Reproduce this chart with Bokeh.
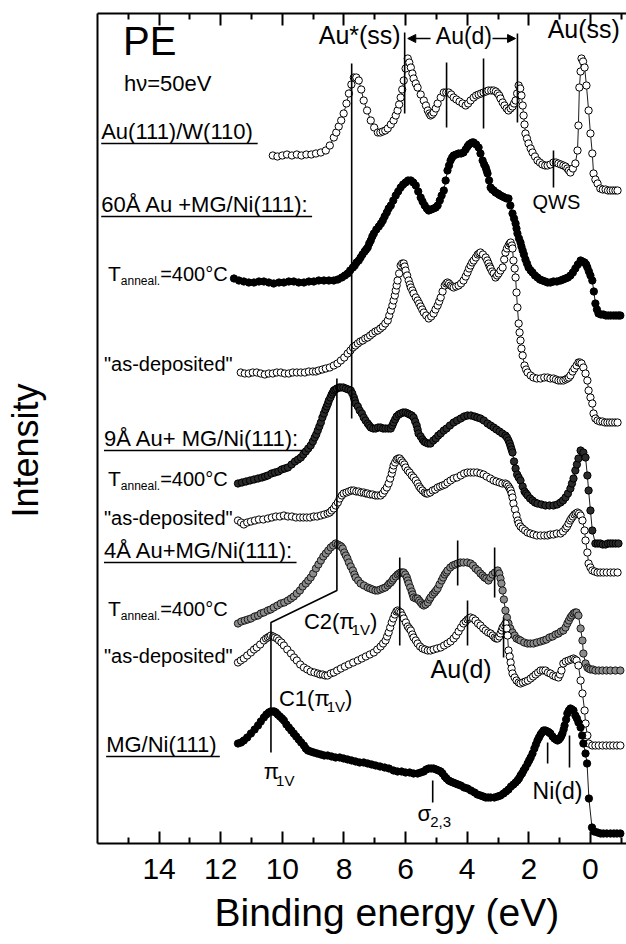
import math
from bokeh.plotting import figure
from bokeh.models import (Range1d, LinearAxis, FixedTicker, ColumnDataSource,
                          Title, Arrow, NormalHead)
from bokeh.core.properties import value
from bokeh.embed import file_html
from bokeh.resources import INLINE

FONT = "Liberation Sans"

# ---------------------------------------------------------------------------
# Photoemission spectra, h nu = 50 eV: (binding energy [eV], intensity [arb. u.])
# Each spectrum carries its own vertical offset in the stack.
# ---------------------------------------------------------------------------
au_w110 = [
    (10.31, 688), (10.16, 687), (10.00, 688), (9.85, 689), (9.69, 688), (9.53, 689),
    (9.38, 688), (9.22, 689), (9.06, 689), (8.91, 690), (8.75, 691), (8.59, 693),
    (8.46, 698), (8.33, 706), (8.25, 711), (8.17, 717), (8.09, 723), (8.01, 730),
    (7.92, 740), (7.84, 750), (7.76, 759), (7.68, 766), (7.60, 766), (7.52, 763),
    (7.44, 754), (7.36, 743), (7.25, 733), (7.13, 723), (7.02, 716), (6.90, 711),
    (6.82, 711), (6.74, 712), (6.66, 713), (6.58, 715), (6.48, 719), (6.39, 723),
    (6.32, 728), (6.26, 733), (6.21, 739), (6.16, 746), (6.11, 754), (6.06, 763),
    (6.00, 775), (5.93, 785), (5.88, 781), (5.83, 776), (5.78, 770), (5.74, 765),
    (5.67, 760), (5.61, 756), (5.51, 749), (5.41, 743), (5.34, 738), (5.28, 733),
    (5.23, 730), (5.19, 728), (5.14, 729), (5.09, 731), (5.02, 735), (4.96, 740),
    (4.86, 746), (4.76, 751), (4.68, 751), (4.60, 751), (4.52, 749), (4.44, 746),
    (4.35, 744), (4.25, 742), (4.15, 740), (4.05, 738), (3.97, 740), (3.89, 743),
    (3.79, 746), (3.71, 748), (3.63, 749), (3.55, 750), (3.47, 751), (3.39, 752),
    (3.31, 753), (3.22, 753), (3.14, 753), (3.07, 752), (3.01, 750), (2.96, 748),
    (2.92, 745), (2.85, 741), (2.79, 738), (2.72, 735), (2.66, 733), (2.59, 735),
    (2.53, 737), (2.48, 740), (2.43, 743), (2.38, 750), (2.33, 758), (2.28, 755),
    (2.24, 748), (2.20, 738), (2.17, 728), (2.14, 719), (2.11, 710), (2.06, 705),
    (2.01, 700), (1.94, 695), (1.88, 691), (1.80, 687), (1.72, 683), (1.64, 681),
    (1.56, 679), (1.47, 678), (1.39, 678), (1.30, 679), (1.20, 681), (1.12, 681),
    (1.04, 680), (0.96, 679), (0.88, 678), (0.81, 677), (0.75, 675), (0.70, 673),
    (0.65, 671), (0.57, 675), (0.49, 680), (0.42, 693), (0.39, 718), (0.36, 756),
    (0.32, 772), (0.29, 785), (0.24, 782), (0.19, 776), (0.13, 758), (0.06, 733),
    (0.00, 710), (-0.06, 690), (-0.10, 670), (-0.16, 664), (-0.23, 660), (-0.32, 655),
    (-0.40, 654), (-0.49, 654), (-0.57, 653), (-0.65, 653), (-0.73, 653), (-0.81, 653),
    (-0.88, 653),
]

au60_annealed = [
    (11.57, 565), (11.41, 563), (11.25, 562), (11.09, 561), (10.92, 561), (10.76, 562),
    (10.60, 562), (10.44, 561), (10.28, 560), (10.11, 561), (9.95, 561), (9.79, 562),
    (9.63, 562), (9.47, 561), (9.30, 561), (9.14, 562), (8.98, 562), (8.82, 563),
    (8.65, 563), (8.49, 563), (8.33, 563), (8.20, 564), (8.07, 566), (7.97, 568),
    (7.88, 570), (7.80, 573), (7.71, 576), (7.65, 578), (7.59, 581), (7.52, 583),
    (7.46, 586), (7.40, 589), (7.33, 592), (7.28, 594), (7.23, 596), (7.18, 600),
    (7.13, 603), (7.08, 607), (7.03, 610), (6.95, 614), (6.87, 617), (6.80, 620),
    (6.74, 623), (6.68, 627), (6.61, 631), (6.55, 635), (6.48, 638), (6.40, 643),
    (6.32, 648), (6.24, 652), (6.16, 656), (6.08, 659), (6.00, 661), (5.92, 663),
    (5.83, 663), (5.75, 661), (5.67, 658), (5.59, 652), (5.51, 646), (5.45, 642),
    (5.38, 638), (5.31, 635), (5.25, 633), (5.17, 634), (5.09, 635), (5.02, 636),
    (4.96, 638), (4.89, 643), (4.83, 648), (4.76, 653), (4.70, 663), (4.64, 673),
    (4.59, 678), (4.54, 683), (4.49, 686), (4.44, 688), (4.36, 689), (4.28, 690),
    (4.20, 690), (4.12, 691), (4.05, 694), (3.99, 697), (3.94, 699), (3.89, 700),
    (3.84, 701), (3.79, 701), (3.71, 699), (3.63, 696), (3.57, 690), (3.50, 683),
    (3.45, 679), (3.40, 676), (3.37, 673), (3.34, 670), (3.29, 663), (3.24, 656),
    (3.19, 654), (3.14, 653), (3.08, 651), (3.01, 650), (2.97, 649), (2.92, 648),
    (2.85, 647), (2.79, 646), (2.72, 645), (2.66, 645), (2.60, 638), (2.53, 630),
    (2.48, 625), (2.43, 620), (2.40, 615), (2.37, 610), (2.32, 605), (2.27, 601),
    (2.24, 597), (2.20, 593), (2.16, 589), (2.11, 584), (2.06, 580), (2.01, 576),
    (1.94, 573), (1.88, 571), (1.80, 568), (1.72, 566), (1.64, 564), (1.56, 563),
    (1.47, 562), (1.39, 561), (1.30, 561), (1.20, 562), (1.09, 562), (0.97, 563),
    (0.89, 564), (0.81, 565), (0.73, 566), (0.65, 568), (0.57, 571), (0.49, 575),
    (0.41, 579), (0.32, 583), (0.26, 582), (0.19, 581), (0.14, 579), (0.10, 576),
    (0.05, 572), (0.00, 568), (-0.06, 563), (-0.11, 552), (-0.16, 540), (-0.21, 534),
    (-0.26, 530), (-0.34, 529), (-0.42, 529), (-0.50, 528), (-0.58, 528), (-0.66, 528),
    (-0.75, 528), (-0.83, 528), (-0.91, 528), (-0.97, 528),
]

au60_deposited = [
    (11.35, 471), (11.22, 470), (11.09, 470), (10.96, 471), (10.83, 471), (10.70, 470),
    (10.57, 469), (10.44, 470), (10.31, 470), (10.18, 471), (10.05, 471), (9.92, 470),
    (9.79, 470), (9.66, 471), (9.53, 471), (9.40, 471), (9.27, 471), (9.14, 472),
    (9.01, 472), (8.91, 472), (8.82, 473), (8.70, 474), (8.59, 475), (8.46, 476),
    (8.33, 478), (8.21, 480), (8.10, 483), (7.99, 486), (7.88, 490), (7.79, 493),
    (7.71, 496), (7.63, 498), (7.55, 500), (7.47, 502), (7.39, 503), (7.31, 505),
    (7.23, 506), (7.15, 508), (7.07, 510), (6.98, 512), (6.90, 513), (6.82, 515),
    (6.74, 517), (6.66, 520), (6.58, 523), (6.53, 528), (6.48, 533), (6.43, 538),
    (6.39, 543), (6.35, 548), (6.32, 553), (6.29, 558), (6.26, 563), (6.21, 570),
    (6.16, 578), (6.11, 580), (6.06, 580), (6.03, 577), (6.00, 573), (5.95, 568),
    (5.90, 563), (5.86, 559), (5.83, 556), (5.78, 553), (5.74, 550), (5.67, 546),
    (5.61, 543), (5.56, 540), (5.51, 537), (5.46, 534), (5.41, 531), (5.33, 528),
    (5.25, 525), (5.17, 527), (5.09, 530), (5.03, 534), (4.96, 538), (4.91, 542),
    (4.86, 546), (4.80, 552), (4.73, 558), (4.68, 560), (4.64, 561), (4.59, 560),
    (4.54, 558), (4.49, 557), (4.44, 556), (4.36, 557), (4.28, 558), (4.20, 560),
    (4.12, 563), (4.05, 567), (3.99, 571), (3.94, 575), (3.89, 578), (3.84, 581),
    (3.79, 583), (3.72, 586), (3.66, 589), (3.61, 590), (3.57, 591), (3.49, 589),
    (3.40, 586), (3.35, 583), (3.31, 580), (3.27, 577), (3.24, 575), (3.19, 572),
    (3.14, 570), (3.08, 566), (3.03, 568), (2.98, 570), (2.92, 573), (2.85, 576),
    (2.80, 584), (2.76, 591), (2.71, 595), (2.66, 598), (2.62, 600), (2.59, 601),
    (2.55, 598), (2.53, 595), (2.50, 583), (2.46, 575), (2.43, 566), (2.40, 551),
    (2.37, 536), (2.33, 520), (2.30, 511), (2.27, 503), (2.24, 495), (2.20, 488),
    (2.14, 478), (2.09, 474), (2.04, 471), (1.94, 468), (1.85, 466), (1.74, 465),
    (1.62, 465), (1.50, 466), (1.39, 466), (1.30, 465), (1.20, 465), (1.12, 464),
    (1.04, 463), (0.96, 463), (0.88, 463), (0.81, 464), (0.75, 465), (0.70, 466),
    (0.65, 468), (0.58, 472), (0.52, 475), (0.45, 478), (0.39, 481), (0.34, 481),
    (0.29, 480), (0.23, 476), (0.16, 470), (0.10, 463), (0.06, 453), (0.00, 446),
    (-0.06, 440), (-0.10, 430), (-0.16, 425), (-0.23, 423), (-0.31, 422), (-0.39, 422),
    (-0.47, 421), (-0.55, 421), (-0.63, 421), (-0.71, 421), (-0.80, 421), (-0.88, 421),
]

au9_annealed = [
    (11.44, 360), (11.31, 361), (11.18, 362), (11.05, 363), (10.92, 364), (10.79, 365),
    (10.66, 366), (10.56, 367), (10.47, 368), (10.35, 370), (10.24, 371), (10.13, 372),
    (10.02, 374), (9.92, 375), (9.82, 376), (9.70, 379), (9.59, 382), (9.49, 384),
    (9.40, 386), (9.32, 389), (9.24, 392), (9.16, 395), (9.08, 398), (9.01, 402),
    (8.95, 406), (8.90, 409), (8.85, 413), (8.80, 417), (8.75, 421), (8.70, 426),
    (8.65, 430), (8.60, 434), (8.56, 437), (8.52, 440), (8.49, 443), (8.44, 446),
    (8.40, 449), (8.36, 451), (8.33, 453), (8.28, 454), (8.23, 455), (8.16, 456),
    (8.10, 456), (8.02, 456), (7.94, 455), (7.86, 454), (7.78, 453), (7.73, 450),
    (7.68, 446), (7.65, 443), (7.62, 440), (7.55, 437), (7.49, 433), (7.42, 430),
    (7.36, 426), (7.30, 423), (7.23, 420), (7.18, 418), (7.13, 416), (7.05, 415),
    (6.97, 415), (6.89, 416), (6.81, 416), (6.73, 415), (6.65, 415), (6.56, 415),
    (6.48, 415), (6.43, 418), (6.39, 421), (6.34, 424), (6.29, 427), (6.22, 429),
    (6.16, 430), (6.08, 431), (6.00, 431), (5.93, 430), (5.87, 429), (5.80, 428),
    (5.74, 426), (5.69, 422), (5.64, 418), (5.61, 414), (5.58, 410), (5.51, 407),
    (5.45, 404), (5.40, 402), (5.35, 401), (5.27, 400), (5.19, 400), (5.10, 403),
    (5.02, 405), (4.94, 408), (4.86, 410), (4.76, 413), (4.67, 415), (4.56, 418),
    (4.44, 421), (4.33, 423), (4.21, 425), (4.10, 427), (3.99, 428), (3.88, 428),
    (3.76, 427), (3.67, 426), (3.57, 425), (3.46, 423), (3.34, 420), (3.24, 418),
    (3.14, 416), (3.05, 414), (2.95, 412), (2.86, 410), (2.76, 408), (2.71, 406),
    (2.66, 403), (2.62, 400), (2.59, 397), (2.56, 394), (2.53, 391), (2.48, 382),
    (2.43, 375), (2.38, 369), (2.33, 366), (2.27, 363), (2.20, 357), (2.14, 352),
    (2.09, 350), (2.04, 348), (1.96, 345), (1.88, 343), (1.80, 341), (1.72, 340),
    (1.59, 339), (1.46, 338), (1.33, 338), (1.20, 338), (1.08, 339), (0.97, 341),
    (0.89, 343), (0.81, 346), (0.73, 350), (0.65, 355), (0.60, 360), (0.55, 365),
    (0.49, 373), (0.44, 379), (0.39, 385), (0.32, 393), (0.23, 391), (0.16, 386),
    (0.10, 368), (0.06, 353), (0.00, 333), (-0.06, 313), (-0.16, 300), (-0.24, 300),
    (-0.32, 300), (-0.40, 299), (-0.49, 299), (-0.57, 300), (-0.65, 300), (-0.73, 300),
    (-0.82, 300), (-0.91, 300),
]

au9_deposited = [
    (11.44, 323), (11.34, 321), (11.25, 319), (11.14, 321), (11.02, 322), (10.89, 323),
    (10.76, 324), (10.62, 324), (10.47, 325), (10.34, 326), (10.21, 327), (10.08, 327),
    (9.95, 328), (9.82, 327), (9.69, 327), (9.56, 326), (9.43, 326), (9.32, 326),
    (9.21, 326), (9.10, 326), (8.98, 327), (8.87, 327), (8.75, 328), (8.64, 329),
    (8.53, 330), (8.46, 331), (8.40, 333), (8.33, 335), (8.27, 338), (8.20, 341),
    (8.14, 345), (8.07, 348), (8.01, 350), (7.92, 351), (7.84, 352), (7.76, 353),
    (7.68, 353), (7.60, 352), (7.52, 352), (7.44, 351), (7.36, 351), (7.29, 350),
    (7.23, 350), (7.15, 349), (7.07, 349), (6.98, 348), (6.90, 348), (6.81, 348),
    (6.74, 350), (6.68, 353), (6.61, 356), (6.55, 360), (6.50, 365), (6.45, 370),
    (6.42, 374), (6.39, 378), (6.34, 381), (6.29, 384), (6.24, 385), (6.19, 385),
    (6.14, 383), (6.09, 381), (6.04, 379), (6.00, 376), (5.93, 373), (5.87, 371),
    (5.80, 368), (5.74, 366), (5.67, 363), (5.61, 360), (5.56, 357), (5.51, 355),
    (5.45, 353), (5.38, 351), (5.33, 350), (5.28, 350), (5.20, 351), (5.12, 353),
    (5.04, 354), (4.96, 356), (4.88, 357), (4.80, 358), (4.72, 359), (4.64, 361),
    (4.54, 363), (4.44, 365), (4.33, 366), (4.21, 368), (4.10, 370), (3.99, 371),
    (3.89, 371), (3.79, 371), (3.68, 371), (3.57, 370), (3.47, 369), (3.37, 367),
    (3.25, 365), (3.14, 363), (3.05, 362), (2.95, 361), (2.86, 360), (2.76, 360),
    (2.71, 359), (2.66, 357), (2.62, 355), (2.59, 353), (2.56, 350), (2.53, 346),
    (2.50, 340), (2.45, 334), (2.40, 328), (2.36, 323), (2.33, 320), (2.27, 317),
    (2.20, 315), (2.12, 313), (2.04, 311), (1.95, 310), (1.85, 309), (1.74, 308),
    (1.62, 308), (1.50, 308), (1.39, 308), (1.30, 309), (1.20, 309), (1.09, 310),
    (0.97, 310), (0.89, 312), (0.81, 315), (0.76, 317), (0.71, 320), (0.66, 323),
    (0.62, 325), (0.57, 327), (0.52, 329), (0.47, 330), (0.42, 331), (0.37, 330),
    (0.32, 328), (0.26, 323), (0.19, 313), (0.16, 303), (0.10, 291), (0.06, 280),
    (0.00, 276), (-0.06, 273), (-0.14, 272), (-0.23, 271), (-0.32, 271), (-0.42, 271),
    (-0.53, 271), (-0.65, 271), (-0.76, 271), (-0.88, 271),
]

au4_annealed = [
    (11.44, 220), (11.33, 222), (11.22, 223), (11.12, 224), (11.02, 225), (10.90, 227),
    (10.79, 228), (10.70, 230), (10.60, 231), (10.47, 233), (10.38, 234), (10.28, 236),
    (10.16, 238), (10.05, 240), (9.94, 241), (9.82, 243), (9.72, 245), (9.63, 247),
    (9.53, 250), (9.43, 253), (9.34, 257), (9.24, 260), (9.16, 263), (9.08, 266),
    (9.00, 270), (8.91, 275), (8.83, 279), (8.75, 283), (8.67, 287), (8.59, 290),
    (8.51, 293), (8.43, 296), (8.35, 298), (8.27, 300), (8.20, 299), (8.14, 298),
    (8.09, 297), (8.04, 295), (7.99, 291), (7.94, 288), (7.89, 285), (7.84, 281),
    (7.78, 277), (7.71, 273), (7.66, 269), (7.62, 266), (7.54, 263), (7.46, 260),
    (7.35, 258), (7.23, 256), (7.15, 255), (7.07, 254), (6.98, 253), (6.90, 253),
    (6.82, 254), (6.74, 255), (6.66, 256), (6.58, 258), (6.53, 260), (6.48, 261),
    (6.43, 263), (6.39, 265), (6.32, 267), (6.26, 269), (6.21, 270), (6.16, 271),
    (6.11, 271), (6.06, 271), (6.01, 269), (5.96, 266), (5.93, 263), (5.90, 260),
    (5.85, 256), (5.80, 252), (5.77, 249), (5.74, 246), (5.67, 245), (5.61, 245),
    (5.56, 243), (5.51, 241), (5.46, 239), (5.41, 238), (5.35, 239), (5.28, 241),
    (5.23, 244), (5.19, 246), (5.12, 249), (5.06, 251), (5.01, 253), (4.96, 255),
    (4.90, 259), (4.83, 263), (4.78, 266), (4.73, 269), (4.68, 271), (4.64, 273),
    (4.55, 276), (4.47, 278), (4.39, 279), (4.31, 280), (4.22, 281), (4.12, 281),
    (4.00, 281), (3.89, 280), (3.81, 278), (3.73, 275), (3.65, 273), (3.57, 270),
    (3.50, 268), (3.44, 266), (3.38, 265), (3.31, 263), (3.25, 266), (3.18, 269),
    (3.10, 271), (3.01, 273), (2.96, 270), (2.92, 265), (2.89, 260), (2.85, 253),
    (2.81, 244), (2.76, 233), (2.71, 226), (2.66, 220), (2.60, 215), (2.53, 211),
    (2.46, 208), (2.40, 205), (2.33, 204), (2.27, 203), (2.15, 201), (2.04, 200),
    (1.95, 200), (1.85, 200), (1.74, 201), (1.62, 202), (1.52, 203), (1.43, 204),
    (1.33, 206), (1.23, 207), (1.13, 209), (1.04, 210), (0.96, 212), (0.88, 213),
    (0.81, 216), (0.75, 220), (0.70, 223), (0.65, 226), (0.60, 228), (0.55, 230),
    (0.50, 231), (0.45, 231), (0.39, 228), (0.32, 215), (0.26, 203), (0.23, 190),
    (0.16, 180), (0.10, 176), (0.06, 175), (0.00, 174), (-0.08, 174), (-0.16, 173),
    (-0.27, 173), (-0.39, 173), (-0.52, 173), (-0.65, 173), (-0.81, 173), (-0.97, 173),
]

au4_deposited = [
    (11.44, 181), (11.35, 183), (11.25, 185), (11.14, 188), (11.02, 191), (10.92, 194),
    (10.83, 196), (10.72, 199), (10.60, 203), (10.53, 205), (10.47, 206), (10.42, 207),
    (10.37, 208), (10.30, 207), (10.24, 206), (10.17, 205), (10.11, 203), (10.03, 201),
    (9.95, 198), (9.84, 194), (9.72, 190), (9.62, 186), (9.53, 183), (9.42, 179),
    (9.30, 176), (9.19, 174), (9.08, 172), (8.96, 171), (8.85, 170), (8.77, 169),
    (8.69, 169), (8.61, 168), (8.53, 168), (8.43, 170), (8.33, 171), (8.22, 173),
    (8.10, 175), (7.97, 177), (7.84, 179), (7.70, 181), (7.55, 183), (7.42, 185),
    (7.29, 187), (7.16, 189), (7.03, 191), (6.92, 194), (6.81, 197), (6.73, 200),
    (6.65, 203), (6.60, 207), (6.55, 211), (6.50, 216), (6.45, 221), (6.40, 225),
    (6.35, 229), (6.30, 232), (6.26, 233), (6.21, 232), (6.16, 231), (6.11, 228),
    (6.06, 225), (5.99, 221), (5.93, 217), (5.88, 215), (5.83, 213), (5.78, 209),
    (5.74, 206), (5.67, 203), (5.61, 200), (5.53, 197), (5.45, 195), (5.37, 194),
    (5.28, 193), (5.19, 193), (5.09, 194), (4.98, 195), (4.86, 196), (4.75, 198),
    (4.64, 200), (4.54, 202), (4.44, 205), (4.36, 208), (4.28, 212), (4.20, 216),
    (4.12, 220), (4.05, 222), (3.99, 224), (3.94, 225), (3.89, 226), (3.81, 225),
    (3.73, 223), (3.65, 220), (3.57, 218), (3.48, 215), (3.40, 213), (3.32, 211),
    (3.24, 210), (3.17, 208), (3.11, 206), (3.06, 205), (3.01, 205), (2.96, 207),
    (2.92, 210), (2.88, 213), (2.85, 216), (2.80, 218), (2.76, 220), (2.72, 215),
    (2.69, 208), (2.66, 193), (2.62, 187), (2.59, 181), (2.56, 175), (2.53, 170),
    (2.46, 166), (2.40, 163), (2.33, 161), (2.27, 160), (2.19, 161), (2.11, 162),
    (2.03, 163), (1.94, 165), (1.86, 167), (1.78, 169), (1.70, 171), (1.62, 173),
    (1.54, 173), (1.46, 173), (1.38, 171), (1.30, 170), (1.21, 168), (1.13, 167),
    (1.04, 166), (0.99, 169), (0.94, 173), (0.88, 180), (0.80, 182), (0.71, 183),
    (0.63, 184), (0.55, 185), (0.50, 184), (0.45, 183), (0.39, 178), (0.32, 163),
    (0.26, 150), (0.19, 133), (0.16, 120), (0.10, 108), (0.06, 100), (-0.06, 98),
    (-0.16, 98), (-0.27, 98), (-0.39, 98), (-0.51, 98), (-0.63, 98), (-0.74, 98),
    (-0.86, 98), (-0.97, 98),
]

mg_ni111 = [
    (11.44, 100), (11.34, 101), (11.25, 103), (11.14, 106), (11.02, 110), (10.90, 114),
    (10.79, 118), (10.70, 122), (10.60, 126), (10.52, 129), (10.44, 131), (10.38, 132),
    (10.31, 132), (10.26, 132), (10.21, 131), (10.15, 129), (10.08, 127), (10.01, 125),
    (9.95, 123), (9.87, 119), (9.79, 116), (9.71, 113), (9.63, 110), (9.55, 107),
    (9.47, 104), (9.39, 101), (9.30, 98), (9.24, 95), (9.17, 93), (9.08, 92),
    (8.98, 91), (8.87, 90), (8.75, 89), (8.64, 88), (8.53, 88), (8.40, 87),
    (8.27, 86), (8.14, 86), (8.01, 85), (7.88, 84), (7.75, 83), (7.62, 82),
    (7.49, 81), (7.36, 81), (7.23, 80), (7.10, 79), (6.97, 78), (6.83, 77),
    (6.68, 76), (6.54, 75), (6.39, 73), (6.26, 72), (6.13, 72), (6.00, 71),
    (5.87, 71), (5.74, 70), (5.61, 70), (5.51, 71), (5.41, 72), (5.33, 74),
    (5.25, 75), (5.17, 75), (5.09, 75), (5.01, 74), (4.93, 73), (4.86, 72),
    (4.80, 70), (4.73, 67), (4.67, 65), (4.60, 63), (4.54, 62), (4.46, 61),
    (4.38, 60), (4.30, 59), (4.21, 58), (4.10, 56), (3.99, 55), (3.88, 53),
    (3.76, 51), (3.67, 49), (3.57, 48), (3.48, 47), (3.40, 46), (3.32, 46),
    (3.24, 46), (3.12, 46), (3.01, 47), (2.92, 48), (2.82, 50), (2.74, 52),
    (2.66, 54), (2.58, 57), (2.50, 59), (2.43, 61), (2.37, 63), (2.32, 65),
    (2.27, 68), (2.22, 70), (2.17, 73), (2.11, 76), (2.04, 80), (1.99, 83),
    (1.94, 86), (1.88, 90), (1.82, 95), (1.77, 99), (1.72, 103), (1.67, 106),
    (1.62, 109), (1.57, 111), (1.52, 113), (1.46, 113), (1.39, 112), (1.34, 111),
    (1.30, 110), (1.23, 107), (1.17, 105), (1.12, 104), (1.07, 103), (1.02, 104),
    (0.97, 106), (0.94, 108), (0.91, 110), (0.87, 114), (0.84, 118), (0.79, 124),
    (0.75, 130), (0.70, 133), (0.65, 135), (0.60, 134), (0.55, 133), (0.49, 128),
    (0.44, 125), (0.39, 121), (0.32, 116), (0.27, 108), (0.23, 100), (0.16, 90),
    (0.11, 80), (0.05, 45), (-0.05, 16), (-0.12, 12), (-0.23, 11), (-0.33, 10),
    (-0.42, 10), (-0.53, 10), (-0.65, 10), (-0.76, 10), (-0.86, 10), (-0.97, 10),
]

# Peak markers: (energy, lower intensity, upper intensity)
peak_marks = [
    (7.75, 425, 780),                                                  # Au*(ss)
    (6.03, 730, 811), (4.67, 716, 781), (3.47, 715, 785), (2.37, 721, 810),  # Au(d)
    (1.20, 656, 693),                                                  # QWS
    (6.19, 198, 286), (4.31, 258, 303), (3.11, 246, 296),              # 4 A Au, annealed
    (3.99, 198, 243), (2.82, 186, 226),                                # 4 A Au, as-deposited
    (1.39, 80, 101), (0.68, 76, 108),                                  # Ni(d)
    (5.12, 41, 63),                                                    # sigma_2,3
]
# C2(pi_1V) -> C1(pi_1V) pointer path
c_path_E = [8.23, 8.23, 10.37, 10.37]
c_path_I = [465, 253, 221, 91]

major_ticks = [14, 12, 10, 8, 6, 4, 2, 0]
minor_ticks = [15, 13, 11, 9, 7, 5, 3, 1, -1]

# ---------------------------------------------------------------------------
# Layout
# ---------------------------------------------------------------------------
W, H = 626, 944
LEFT, RIGHT, TOP, BOTTOM = 97, 0, 13, 101
E_HI, E_LO = 16.0, -1.17
I_TOP = 830
PX_PER_EV = (W - LEFT - RIGHT) / (E_HI - E_LO)
BASELINE_LIFT = 0.43   # em fraction: puts the glyph baseline on the anchor point

p = figure(width=W, height=H, x_range=Range1d(E_HI, E_LO), y_range=Range1d(0, I_TOP),
           min_border_left=LEFT, min_border_right=RIGHT, min_border_top=TOP,
           min_border_bottom=BOTTOM, toolbar_location=None, output_backend="svg",
           x_axis_location=None, y_axis_location=None)
p.outline_line_color = None
p.background_fill_color = "white"
p.border_fill_color = "white"
p.xgrid.visible = False
p.ygrid.visible = False


def frame_axis(show_labels):
    ax = LinearAxis(ticker=FixedTicker(ticks=major_ticks, minor_ticks=minor_ticks))
    ax.axis_line_width = 2
    ax.major_tick_line_width = 2
    ax.minor_tick_line_width = 2
    ax.major_tick_in = 12
    ax.major_tick_out = 0
    ax.minor_tick_in = 6
    ax.minor_tick_out = 0
    if show_labels:
        ax.major_label_text_font = FONT
        ax.major_label_text_font_size = "30px"
        ax.major_label_text_color = "black"
        ax.major_label_standoff = 15
    else:
        ax.major_label_overrides = {t: "" for t in major_ticks}
        ax.major_label_text_font_size = "1px"
        ax.major_label_standoff = 0
    return ax


p.add_layout(frame_axis(True), "below")
p.add_layout(frame_axis(False), "above")

# Left frame edge; its (blank) label reserves the gap between frame and title
left_axis = LinearAxis(ticker=FixedTicker(ticks=[]), axis_line_width=2,
                       major_tick_line_color=None, minor_tick_line_color=None,
                       major_label_text_font_size="1px", major_label_standoff=0,
                       axis_label="\u00a0", axis_label_standoff=8,
                       axis_label_text_font=FONT, axis_label_text_font_size="36px")
p.add_layout(left_axis, "left")

# Axis titles
p.add_layout(Title(text="Intensity", align="left", offset=326, vertical_align="bottom",
                   text_font=FONT, text_font_size="36px", text_font_style="normal",
                   text_color="black", standoff=0), "left")
p.add_layout(Title(text="Binding energy (eV)", align="left", offset=117,
                   text_font=FONT, text_font_size="39px", text_font_style="normal",
                   text_color="black", standoff=14), "below")

# ---------------------------------------------------------------------------
# Spectra
# ---------------------------------------------------------------------------
spectra = [
    (au_w110, "white", "black"),
    (au60_annealed, "black", "black"),
    (au60_deposited, "white", "black"),
    (au9_annealed, "#2b2b2b", "black"),
    (au9_deposited, "white", "black"),
    (au4_annealed, "#8c8c8c", "#1a1a1a"),
    (au4_deposited, "white", "black"),
    (mg_ni111, "black", "black"),
]
for pts, fill, edge in spectra:
    E = [e for e, _ in pts]
    I = [i for _, i in pts]
    p.line(E, I, line_color="black", line_width=0.9)
    p.scatter(E, I, marker="circle", size=7.3, fill_color=fill, line_color=edge,
              line_width=1.0)

# Peak markers and pointer
p.multi_line(xs=[[e, e] for e, _, _ in peak_marks],
             ys=[[lo, hi] for _, lo, hi in peak_marks],
             line_color="black", line_width=1.6)
p.line(c_path_E, c_path_I, line_color="black", line_width=1.6)

# Au(d) range arrows
for x0, x1 in [(5.19, 5.93), (3.18, 2.43)]:
    p.add_layout(Arrow(x_start=x0, y_start=805, x_end=x1, y_end=805, line_width=1.5,
                       end=NormalHead(size=8, fill_color="black", line_color="black")))

# ---------------------------------------------------------------------------
# Text (rich pieces laid out with Arial/Liberation Sans advance widths)
# ---------------------------------------------------------------------------
ADV = {" ": 278, '"': 355, "(": 333, ")": 333, "*": 389, "+": 584, ",": 278,
       "-": 333, ".": 278, "/": 278, ":": 278, "=": 584, "A": 667, "C": 722,
       "E": 667, "G": 778, "M": 833, "N": 722, "P": 667, "Q": 778, "S": 667,
       "T": 611, "V": 667, "W": 944, "a": 556, "d": 556, "e": 556, "h": 556,
       "i": 222, "l": 222, "n": 556, "o": 556, "p": 556, "r": 333, "s": 500,
       "t": 278, "u": 556, "v": 500, "y": 500, "\u00c5": 667, "\u00b0": 400,
       "\u03c0": 556, "\u03c3": 570, "\u03bd": 500}


def text_px(s, size):
    return size * sum(ADV.get(c, 556) for c in s) / 1000.0


tx, ty, tt, ts, td = [], [], [], [], []


def add_text(E, I, parts):
    dx = 0.0
    for s, size, drop in parts:
        tx.append(E)
        ty.append(I - drop + BASELINE_LIFT * size)
        tt.append(s)
        ts.append(f"{size}px")
        td.append(dx)
        dx += text_px(s, size)
    return dx


ul_xs, ul_ys = [], []


def underlined(E, I, s, size=22):
    w = add_text(E, I, [(s, size, 0)])
    ul_xs.append([E, E - w / PX_PER_EV])
    ul_ys.append([I - 3, I - 3])


ANNEAL = [("T", 21, 0), ("anneal.", 12, 4), ("=400\u00b0C", 20, 0)]

add_text(15.17, 785, [("PE", 40, 0)])
add_text(15.14, 751, [("h\u03bd=50eV", 22, 0)])
underlined(15.88, 703, "Au(111)/W(110)")
underlined(15.88, 630, "60\u00c5 Au +MG/Ni(111):")
add_text(15.66, 561, ANNEAL)
add_text(15.79, 471, [('"as-deposited"', 20, 0)])
underlined(15.79, 396, "9\u00c5 Au+ MG/Ni(111):")
add_text(15.66, 356, ANNEAL)
add_text(15.79, 317, [('"as-deposited"', 20, 0)])
underlined(15.79, 284, "4\u00c5 Au+MG/Ni(111):")
add_text(15.66, 226, ANNEAL)
add_text(15.79, 179, [('"as-deposited"', 20, 0)])
underlined(15.72, 90, "MG/Ni(111)")

add_text(8.82, 798, [("Au*(ss)", 25, 0)])
add_text(5.02, 798, [("Au(d)", 23, 0)])
add_text(1.39, 804, [("Au(ss)", 25, 0)])
add_text(1.88, 633, [("QWS", 20, 0)])
add_text(9.30, 213, [("C2(\u03c0", 22, 0), ("1V", 15, 5), (")", 22, 0)])
add_text(10.11, 136, [("C1(\u03c0", 22, 0), ("1V", 15, 5), (")", 22, 0)])
add_text(5.19, 164, [("Au(d)", 25, 0)])
add_text(10.60, 63, [("\u03c0", 22, 0), ("1V", 15, 6)])
add_text(5.61, 21, [("\u03c3", 22, 0), ("2,3", 15, 6)])
add_text(1.88, 43, [("Ni(d)", 23, 0)])

src = ColumnDataSource(dict(x=tx, y=ty, text=tt, size=ts, dx=td))
p.text(x="x", y="y", text="text", source=src, text_font=value(FONT),
       text_font_size="size", x_offset="dx", text_align="left",
       text_baseline="alphabetic", text_color="black")
p.multi_line(xs=ul_xs, ys=ul_ys, line_color="black", line_width=1.3)

open("out.html", "w").write(file_html(p, INLINE))
